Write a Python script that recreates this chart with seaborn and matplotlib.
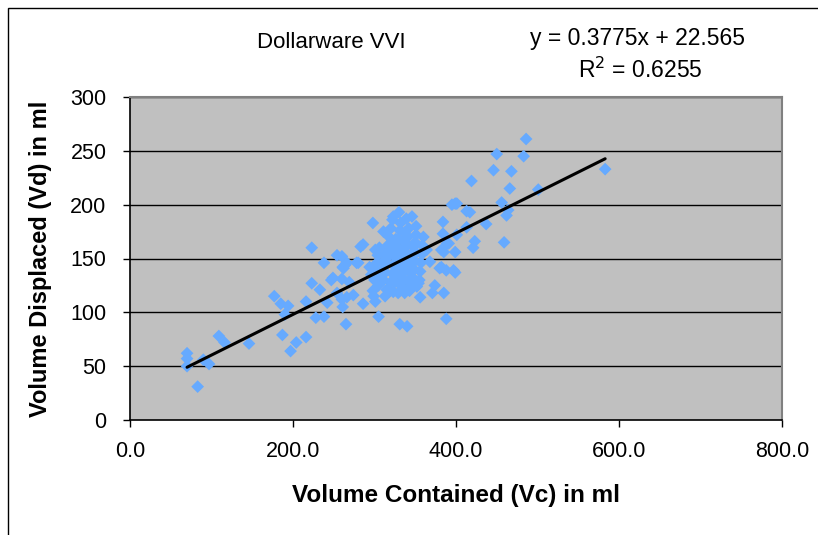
import numpy as np
import pandas as pd
import seaborn as sns
import matplotlib.pyplot as plt
from matplotlib.patches import Rectangle

# === Data ===
vc = [70, 70, 70, 83, 90, 97, 109, 116, 146,
      177, 185, 194, 190, 187, 197, 204, 216, 216, 223, 228, 238, 238, 233, 242, 249,
      254, 261, 265, 261, 266, 223, 283, 260, 266, 278, 262, 260, 269, 254, 247,
      298, 323, 330, 339, 346, 351, 384, 399, 413, 384, 389, 399, 382, 286, 301, 364,
      368, 380, 397, 354, 374, 311,
      450, 446, 468, 419, 466, 395, 401, 456, 417, 462, 437, 413, 401, 391, 423, 421,
      459, 385, 486, 483, 501, 583, 464,
      305, 331, 340, 388, 356, 371, 385, 399, 382, 388, 280, 264, 260, 286, 299, 315,
      329, 337, 274, 352, 301, 313, 323,
      305, 308, 310, 312, 314, 316, 318, 320, 322,
      325, 326, 327, 328, 329, 330, 331, 332,
      335, 336, 337, 338, 339, 340, 341, 342,
      345, 346, 347, 348, 349, 350, 351,
      355, 356, 357, 358, 359, 360,
      300, 302, 303, 304, 306, 298, 296, 294,
      318, 320, 322, 323, 324, 325, 326,
      332, 333, 334, 334, 335, 336, 337,
      343, 344, 345, 346, 347, 348,
      311, 313, 315, 317, 319, 321]
vd = [62, 57, 50, 31, 56, 52, 78, 72, 71,
      115, 108, 106, 98, 79, 64, 72, 77, 110, 127, 95, 96, 146, 121, 109, 132,
      153, 142, 89, 105, 114, 160, 161, 152, 146, 146, 141, 131, 128, 118, 130,
      183, 189, 193, 187, 189, 180, 184, 201, 194, 173, 164, 156, 158, 163, 158, 158,
      147, 141, 139, 127, 125, 175,
      247, 232, 231, 222, 215, 200, 201, 202, 193, 190, 182, 179, 172, 164, 166, 160,
      165, 156, 261, 245, 214, 233, 195,
      96, 89, 87, 94, 114, 118, 118, 137, 142, 139, 146, 144, 112, 108, 115, 121,
      118, 118, 116, 124, 110, 115, 119,
      125, 132, 140, 148, 155, 162, 170, 178, 186,
      128, 136, 144, 152, 160, 168, 176, 183,
      122, 130, 138, 146, 154, 162, 170, 178,
      125, 133, 141, 149, 157, 165, 172,
      130, 138, 146, 154, 162, 170,
      130, 138, 146, 153, 160, 120, 135, 142,
      120, 128, 136, 144, 152, 160, 168,
      125, 133, 141, 150, 158, 166, 174,
      120, 128, 137, 145, 153, 161,
      130, 137, 145, 152, 158, 165]

slope = 0.3775
intercept = 22.565
x_ticks = [0, 200, 400, 600, 800]
y_ticks = [0, 50, 100, 150, 200, 250, 300]

df = pd.DataFrame({'vc': vc, 'vd': vd})
trend = pd.DataFrame({'vc': [min(vc), max(vc)]})
trend['vd'] = slope * trend['vc'] + intercept

# === Style ===
sns.set_theme(style="white")
plt.rcParams['font.family'] = ['Liberation Sans', 'DejaVu Sans']
plt.rcParams['text.color'] = 'black'
plt.rcParams['axes.labelcolor'] = 'black'
plt.rcParams['xtick.color'] = 'black'
plt.rcParams['ytick.color'] = 'black'

fig = plt.figure(figsize=(8.18, 5.35), dpi=100)
fig.patch.set_facecolor('white')
# chart frame (only top/left edges fall inside the picture)
fig.add_artist(Rectangle((8 / 818, -0.1), 1.2, 1 - 8 / 535 + 0.1, transform=fig.transFigure,
                         fill=False, edgecolor='black', linewidth=1))

ax = fig.add_axes([130 / 818, 1 - 420 / 535, 652 / 818, 323 / 535])
ax.set_facecolor('#C0C0C0')

for yv in y_ticks[1:]:
    ax.axhline(yv, color='black', linewidth=1, zorder=1)

sns.scatterplot(data=df, x='vc', y='vd', marker='D', s=42, color='#66AAFF',
                edgecolor='none', linewidth=0, ax=ax, zorder=3)
sns.lineplot(data=trend, x='vc', y='vd', color='black', linewidth=2.2, ax=ax, zorder=4)

ax.set_xlim(0, 800)
ax.set_ylim(0, 300)
ax.set_xticks(x_ticks)
ax.set_xticklabels([f"{v:.1f}" for v in x_ticks])
ax.set_yticks(y_ticks)
ax.set_yticklabels([str(v) for v in y_ticks])
ax.tick_params(axis='both', direction='out', length=5, width=1, color='black',
               labelsize=15.5, labelcolor='black', bottom=True, left=True)
ax.tick_params(axis='x', pad=10)
ax.tick_params(axis='y', pad=12)

for side in ['left', 'bottom']:
    ax.spines[side].set_color('black')
    ax.spines[side].set_linewidth(1.2)
for side in ['top', 'right']:
    ax.spines[side].set_color('#808080')
    ax.spines[side].set_linewidth(1.5)

ax.set_xlabel("Volume Contained (Vc) in ml", fontsize=17.5, fontweight='bold', labelpad=16)
ax.set_ylabel("Volume Displaced (Vd) in ml", fontsize=17, fontweight='bold', labelpad=13)

fig.text(331 / 818, 1 - 42 / 535, "Dollarware VVI", fontsize=16, ha='center', va='center')
fig.text(638 / 818, 1 - 38 / 535, "y = 0.3775x + 22.565", fontsize=16.5, ha='center', va='center')
fig.text(640 / 818, 1 - 70 / 535, "R$^2$ = 0.6255", fontsize=16.5, ha='center', va='center')

plt.savefig("out.png", dpi=100)
plt.close()
